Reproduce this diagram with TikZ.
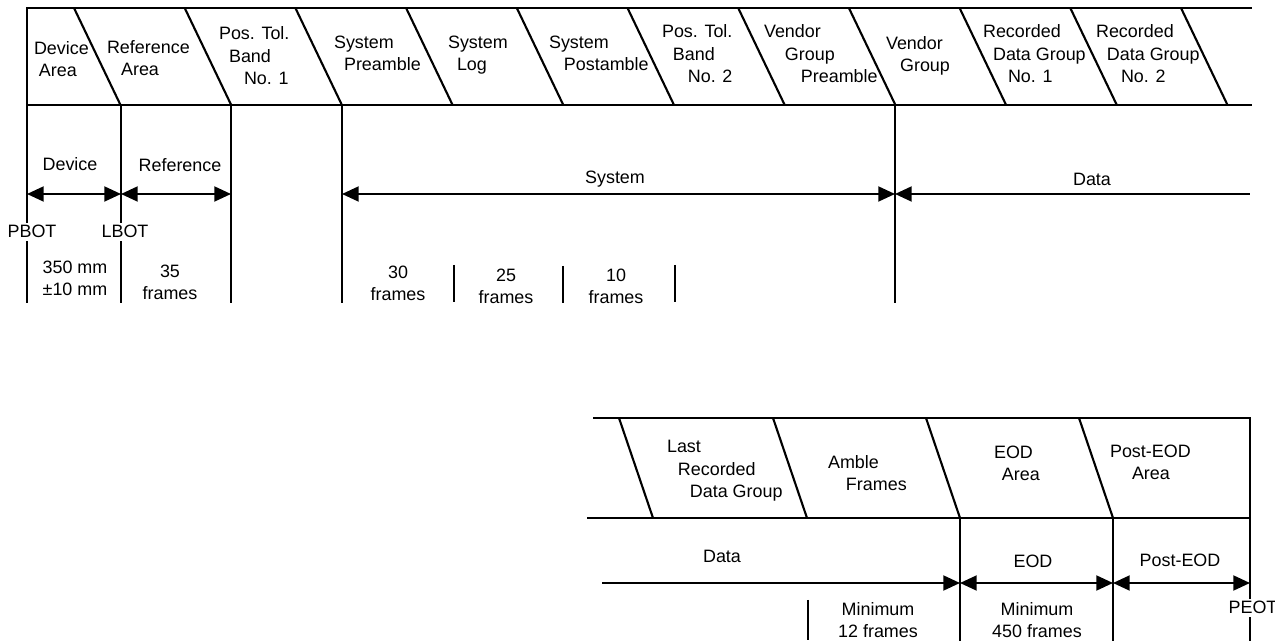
\documentclass[tikz,border=0pt]{standalone}
\usepackage{fontspec}
\setmainfont{Liberation Sans}
\usetikzlibrary{arrows.meta}

\tikzset{
  every node/.style={font=\fontsize{10.2}{13}\selectfont, inner sep=0pt},
  hdr/.style={anchor=base west, align=left},
  lbl/.style={anchor=base, align=center},
  endlbl/.style={anchor=base, fill=white, inner sep=1.5pt},
  dim/.style={{Triangle[length=9.5pt,width=8.5pt]}-{Triangle[length=9.5pt,width=8.5pt]}},
  dimr/.style={-{Triangle[length=9.5pt,width=8.5pt]}},
  diml/.style={{Triangle[length=9.5pt,width=8.5pt]}-},
}

\begin{document}
\begin{tikzpicture}[x=0.02cm, y=-0.02cm, line width=1.2pt]
    \useasboundingbox (0,0) rectangle (1275,641);

    % beginning of tape
        \draw (27,303) -- (27,8) -- (1252,8);
        \draw (27,105) -- (1252,105);
        \foreach \i in {0,...,10}
            \draw ({74+110.7*\i},8) -- ({120.5+110.7*\i},105);
        \draw (121,105) -- (121,303);
        \draw (231,105) -- (231,303);
        \draw (342,105) -- (342,303);
        \draw (895,105) -- (895,303);
        \draw (454,265) -- (454,302);
        \draw (563,266) -- (563,303);
        \draw (675,265) -- (675,302);

        % base of a node = baseline of its last line
        \node[hdr] (dev) at (33,77) {Device\\\hspace*{2.8pt}Area};
        \node[hdr] (ref) at (106,76) {Reference\\\hspace*{8pt}Area};
        \node[hdr] (ptb1) at (218,85) {Pos. Tol.\\\hspace*{5.7pt}Band\\\hspace*{14.2pt}No. 1};
        \node[hdr] (spre) at (333,71) {System\\\hspace*{5.7pt}Preamble};
        \node[hdr] (slog) at (447,71) {System\\\hspace*{5.1pt}Log};
        \node[hdr] (spost) at (548,71) {System\\\hspace*{8.5pt}Postamble};
        \node[hdr] (ptb2) at (661,83) {Pos. Tol.\\\hspace*{6.2pt}Band\\\hspace*{14.7pt}No. 2};
        \node[hdr] (vgpre) at (763,83) {Vendor\\\hspace*{11.9pt}Group\\\hspace*{21pt}Preamble};
        \node[hdr] (vgrp) at (885,72) {Vendor\\\hspace*{8pt}Group};
        \node[hdr] (rdg1) at (982,83) {Recorded\\\hspace*{5.7pt}Data Group\\\hspace*{14.2pt}No. 1};
        \node[hdr] (rdg2) at (1095,83) {Recorded\\\hspace*{6.2pt}Data Group\\\hspace*{14.2pt}No. 2};

        \coordinate (pb) at (27,194);
        \coordinate (lb) at (121,194);
        \coordinate (rf) at (231,194);
        \coordinate (sy) at (342,194);
        \coordinate (vg) at (895,194);
        \coordinate (tapeend) at (1250,194);
        \draw[dim] (pb) -- (lb);
        \draw[dim] (lb) -- (rf);
        \draw[dim] (sy) -- (vg);
        \draw[diml] (vg) -- (tapeend);
        \node[lbl] (devlbl) at (70,171) {Device};
        \node[lbl] (reflbl) at (180,172) {Reference};
        \node[lbl] (syslbl) at (615,184) {System};
        \node[lbl] (datalbl) at (1092,186) {Data};

        \node[endlbl] (pbot) at (32,238) {PBOT};
        \node[endlbl] (lbot) at (125,238) {LBOT};

        \node[lbl] (devlen) at (75,296) {350 mm\\±10 mm};
        \node[lbl] (reflen) at (170,300) {35\\frames};
        \node[lbl] (prelen) at (398,301) {30\\frames};
        \node[lbl] (loglen) at (506,304) {25\\frames};
        \node[lbl] (postlen) at (616,304) {10\\frames};

    % end of tape
        \draw (593,418) -- (1250,418) -- (1250,641);
        \draw (587,518) -- (1250,518);
        \foreach \x in {619,773,926,1079}
            \draw (\x,418) -- (\x+34,518);
        \draw (960,518) -- (960,641);
        \draw (1113,518) -- (1113,641);
        \draw (808,600) -- (808,640);

        \node[hdr] (lrdg) at (666,498) {Last\\\hspace*{6.2pt}Recorded\\\hspace*{13pt}Data Group};
        \node[hdr] (amble) at (827,491) {Amble\\\hspace*{10.2pt}Frames};
        \node[hdr] (eoda) at (993,481) {EOD\\\hspace*{4.5pt}Area};
        \node[hdr] (peoda) at (1109,480) {Post-EOD\\\hspace*{12.5pt}Area};

        \coordinate (dstart) at (602,583);
        \coordinate (eod) at (960,583);
        \coordinate (peod) at (1113,583);
        \coordinate (peotpt) at (1250,583);
        \draw[dimr] (dstart) -- (eod);
        \draw[dim] (eod) -- (peod);
        \draw[dim] (peod) -- (peotpt);
        \node[lbl] (data2lbl) at (722,563) {Data};
        \node[lbl] (eodlbl) at (1033,568) {EOD};
        \node[lbl] (peodlbl) at (1180,567) {Post-EOD};

        \node[endlbl] (peot) at (1253,614) {PEOT};
        \node[lbl] (amblen) at (878,638) {Minimum\\12 frames};
        \node[lbl] (eodlen) at (1037,638) {Minimum\\450 frames};

\end{tikzpicture}
\end{document}
